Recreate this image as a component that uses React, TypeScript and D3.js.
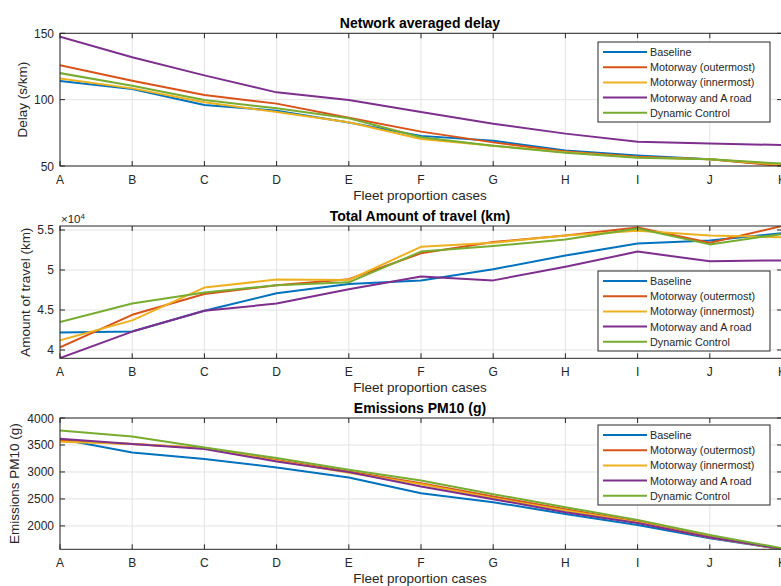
import React from "react";
import * as d3 from "d3";

const categories = ["A", "B", "C", "D", "E", "F", "G", "H", "I", "J", "K"];
const seriesNames = [
  "Baseline",
  "Motorway (outermost)",
  "Motorway (innermost)",
  "Motorway and A road",
  "Dynamic Control",
];
const seriesColors = ["#0072BD", "#D95319", "#EDB120", "#7E2F8E", "#77AC30"];

// Network averaged delay (s/km)
const delayBaseline = [114, 108, 96, 91.7, 82.7, 72.7, 69, 61.6, 58, 55, 50.5];
const delayOutermost = [126, 114.3, 103.5, 97, 86.4, 75.9, 67.8, 61, 57, 55, 50];
const delayInnermost = [116, 108.5, 98, 90.7, 83, 70.4, 65.3, 60.3, 56.5, 55, 51];
const delayMotorwayA = [147.5, 132, 118.3, 105.5, 99.7, 90.7, 81.9, 74.4, 68.3, 67, 65.8];
const delayDynamic = [120, 110.5, 99.7, 93.5, 86, 71.7, 65.3, 60, 56.3, 55, 51.8];
const delayTicks = [50, 100, 150];

// Total amount of travel (km)
const travelBaseline = [42170, 42300, 44900, 47100, 48250, 48700, 50100, 51800, 53300, 53700, 54600];
const travelOutermost = [40330, 44400, 47000, 48100, 48840, 52100, 53500, 54300, 55300, 53400, 55500];
const travelInnermost = [41200, 43700, 47800, 48800, 48750, 52900, 53400, 54300, 54900, 54300, 54100];
const travelMotorwayA = [39000, 42300, 44900, 45800, 47600, 49200, 48700, 50400, 52300, 51100, 51200];
const travelDynamic = [43500, 45800, 47200, 48100, 48460, 52300, 53000, 53800, 55200, 53200, 54500];
const travelTicks = [40000, 45000, 50000, 55000];

// Emissions PM10 (g)
const pmBaseline = [3610, 3361, 3239, 3084, 2898, 2607, 2440, 2223, 2019, 1772, 1570];
const pmOutermost = [3578, 3517, 3443, 3220, 3010, 2793, 2545, 2310, 2081, 1802, 1570];
const pmInnermost = [3560, 3517, 3443, 3210, 2985, 2774, 2514, 2285, 2070, 1784, 1570];
const pmMotorwayA = [3616, 3517, 3424, 3195, 2997, 2731, 2496, 2254, 2056, 1784, 1575];
const pmDynamic = [3770, 3658, 3455, 3257, 3040, 2842, 2589, 2347, 2112, 1833, 1586];
const pmTicks = [2000, 2500, 3000, 3500, 4000];

const FONT = "'Liberation Sans', Arial, Helvetica, sans-serif";
const PLOT_LEFT = 60;
const PLOT_RIGHT = 782;

const x = d3.scalePoint<string>().domain(categories).range([PLOT_LEFT, PLOT_RIGHT]);

type PanelProps = {
  id: string;
  title: string;
  ylabel: string;
  ylabelX: number;
  top: number;
  bottom: number;
  domain: [number, number];
  ticks: number[];
  fmt: (v: number) => string;
  series: number[][];
  legendTop: number;
  exponent?: boolean;
};

function Panel(p: PanelProps) {
  const y = d3.scaleLinear().domain(p.domain).range([p.bottom, p.top]);
  const line = d3
    .line<number>()
    .x((_, i) => x(categories[i]) as number)
    .y((v) => y(v));
  const axisColor = "#262626";
  const tickLen = 5;
  const legendLeft = 598;
  const legendW = 172;
  const legendH = 80;
  return (
    <g>
      <defs>
        <clipPath id={p.id}>
          <rect x={PLOT_LEFT} y={p.top} width={PLOT_RIGHT - PLOT_LEFT} height={p.bottom - p.top} />
        </clipPath>
      </defs>
      <rect x={PLOT_LEFT} y={p.top} width={PLOT_RIGHT - PLOT_LEFT} height={p.bottom - p.top} fill="#fff" />
      {categories.map((c) => (
        <line key={"gx" + c} x1={x(c)} x2={x(c)} y1={p.top} y2={p.bottom} stroke="#e3e3e3" strokeWidth={1} />
      ))}
      {p.ticks.map((t) => (
        <line key={"gy" + t} x1={PLOT_LEFT} x2={PLOT_RIGHT} y1={y(t)} y2={y(t)} stroke="#e3e3e3" strokeWidth={1} />
      ))}
      <g clipPath={`url(#${p.id})`}>
        {p.series.map((s, i) => (
          <path key={i} d={line(s) || ""} fill="none" stroke={seriesColors[i]} strokeWidth={2} strokeLinejoin="round" />
        ))}
      </g>
      <rect
        x={PLOT_LEFT}
        y={p.top}
        width={PLOT_RIGHT - PLOT_LEFT}
        height={p.bottom - p.top}
        fill="none"
        stroke={axisColor}
        strokeWidth={1}
      />
      {categories.map((c) => (
        <g key={"tx" + c}>
          <line x1={x(c)} x2={x(c)} y1={p.bottom} y2={p.bottom - tickLen} stroke={axisColor} />
          <line x1={x(c)} x2={x(c)} y1={p.top} y2={p.top + tickLen} stroke={axisColor} />
          <text
            x={x(c)}
            y={p.bottom + 17.5}
            textAnchor="middle"
            fontSize={12}
            fill={axisColor}
            fontFamily={FONT}
          >
            {c}
          </text>
        </g>
      ))}
      {p.ticks.map((t) => (
        <g key={"ty" + t}>
          <line x1={PLOT_LEFT} x2={PLOT_LEFT + tickLen} y1={y(t)} y2={y(t)} stroke={axisColor} />
          <line x1={PLOT_RIGHT} x2={PLOT_RIGHT - tickLen} y1={y(t)} y2={y(t)} stroke={axisColor} />
          <text
            x={PLOT_LEFT - 6}
            y={y(t) + 4.5}
            textAnchor="end"
            fontSize={12}
            fill={axisColor}
            fontFamily={FONT}
          >
            {p.fmt(t)}
          </text>
        </g>
      ))}
      {p.exponent && (
        <text x={PLOT_LEFT + 1} y={p.top - 3} fontSize={11.5} fill={axisColor} fontFamily={FONT}>
          ×10
          <tspan fontSize={8} dy={-4}>
            4
          </tspan>
        </text>
      )}
      <text
        x={(PLOT_LEFT + PLOT_RIGHT) / 2 - 1}
        y={p.top - 5}
        textAnchor="middle"
        fontSize={14}
        fontWeight="bold"
        fill="#000"
        fontFamily={FONT}
      >
        {p.title}
      </text>
      <text
        x={(PLOT_LEFT + PLOT_RIGHT) / 2 - 1}
        y={p.bottom + 34}
        textAnchor="middle"
        fontSize={13.5}
        fill={axisColor}
        fontFamily={FONT}
      >
        Fleet proportion cases
      </text>
      <text
        transform={`translate(${p.ylabelX},${(p.top + p.bottom) / 2}) rotate(-90)`}
        textAnchor="middle"
        fontSize={13.5}
        fill={axisColor}
        fontFamily={FONT}
      >
        {p.ylabel}
      </text>
      <rect x={legendLeft} y={p.legendTop} width={legendW} height={legendH} fill="#fff" stroke={axisColor} strokeWidth={1} />
      {seriesNames.map((n, i) => {
        const ly = p.legendTop + 10 + i * 15.2;
        return (
          <g key={n}>
            <line x1={legendLeft + 5} x2={legendLeft + 49} y1={ly} y2={ly} stroke={seriesColors[i]} strokeWidth={2} />
            <text x={legendLeft + 52} y={ly + 4} fontSize={10.8} fill={axisColor} fontFamily={FONT}>
              {n}
            </text>
          </g>
        );
      })}
    </g>
  );
}

export default function App() {
  return (
    <svg
      width={781}
      height={586}
      style={{ position: "absolute", left: 0, top: 0, display: "block", background: "#fff" }}
    >
      <rect x={0} y={0} width={781} height={586} fill="#fff" />
      <Panel
        id="clip1"
        title="Network averaged delay"
        ylabel="Delay (s/km)"
        ylabelX={27}
        top={33.3}
        bottom={166}
        domain={[50, 150]}
        ticks={delayTicks}
        fmt={(v) => String(v)}
        series={[delayBaseline, delayOutermost, delayInnermost, delayMotorwayA, delayDynamic]}
        legendTop={42}
      />
      <Panel
        id="clip2"
        title="Total Amount of travel (km)"
        ylabel="Amount of travel (km)"
        ylabelX={30}
        top={226}
        bottom={358.3}
        domain={[38960, 55500]}
        ticks={travelTicks}
        fmt={(v) => String(v / 10000)}
        series={[travelBaseline, travelOutermost, travelInnermost, travelMotorwayA, travelDynamic]}
        legendTop={271}
        exponent
      />
      <Panel
        id="clip3"
        title="Emissions PM10 (g)"
        ylabel="Emissions PM10 (g)"
        ylabelX={19}
        top={418}
        bottom={549.3}
        domain={[1567, 4000]}
        ticks={pmTicks}
        fmt={(v) => String(v)}
        series={[pmBaseline, pmOutermost, pmInnermost, pmMotorwayA, pmDynamic]}
        legendTop={425}
      />
    </svg>
  );
}
